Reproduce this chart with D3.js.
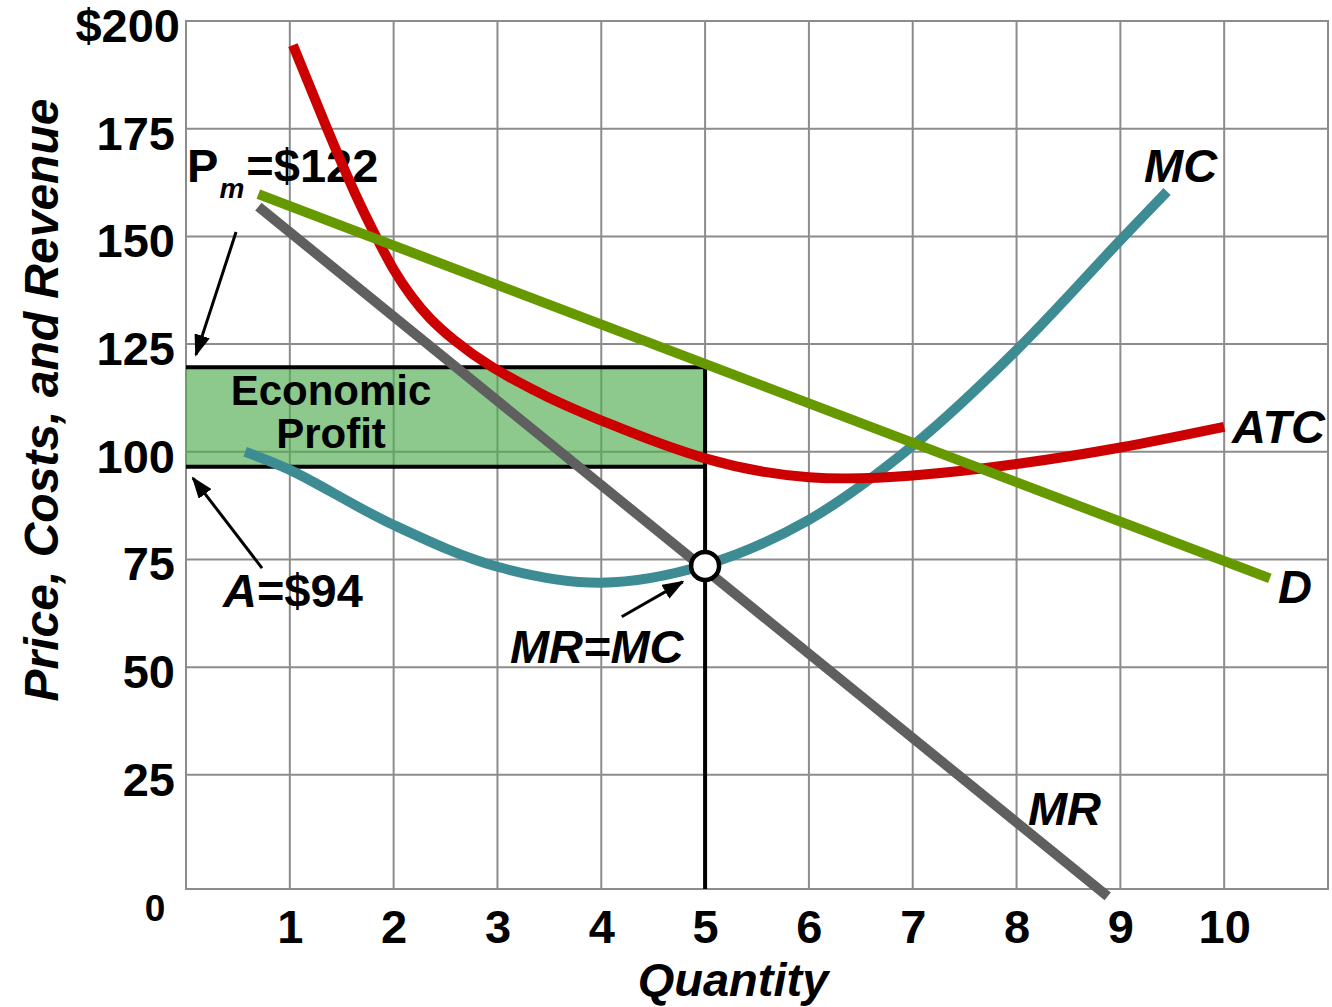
<!DOCTYPE html>
<html><head><meta charset="utf-8">
<script src="https://cdn.jsdelivr.net/npm/d3@7"></script>
<style>
html,body{margin:0;padding:0;background:#fff;}
svg{display:block;font-family:"Liberation Sans",Arial,Helvetica,sans-serif;}
</style></head><body>
<svg id="chart" width="1332" height="1007"></svg>
<script>
// ---- data ----
const quantityTicks = [1,2,3,4,5,6,7,8,9,10];
const priceTicks = [0,25,50,75,100,125,150,175,200];
const priceTickLabels = ["0","25","50","75","100","125","150","175","$200"];
const demandQ = [0.697, 10.44];
const demandP = [159.8, 70.6];
const mrQ = [0.697, 8.878];
const mrP = [156.9, -3.2];
const mcQ = [0.57, 1, 2, 3, 4, 5, 6, 7, 8, 9, 9.45];
const mcP = [100, 95.8, 83, 73.3, 69.6, 73.7, 84.2, 101.4, 123.6, 149.1, 160.4];
const atcQ = [1.03, 1.355, 1.65, 1.84, 2.0, 2.17, 2.34, 2.57, 2.9, 3.5, 4, 5, 6, 7, 8, 9, 10];
const atcP = [194.4, 175.1, 158.5, 149.5, 142, 136, 131, 126, 120, 112.3, 107.2, 97.6, 93.2, 94.2, 97, 100.8, 105.8];
const profitQ = 5;
const monopolyPrice = 119.6;
const averageCost = 96.5;
const equilibriumP = 73.5;

// ---- setup ----
const svg = d3.select("#chart");
const W = 1332, H = 1007;
const x = d3.scaleLinear().domain([0, 11]).range([186, 1328]);
const y = d3.scaleLinear().domain([-1.5, 200]).range([889, 21]);
const FONT = '"Liberation Sans",Arial,Helvetica,sans-serif';
const GRID = "#8c8c8c";

svg.append("rect").attr("width", W).attr("height", H).attr("fill", "#fff");

// grid
const g = svg.append("g");
g.selectAll("line.v").data(quantityTicks).join("line")
  .attr("x1", d => x(d)).attr("x2", d => x(d))
  .attr("y1", y(200)).attr("y2", y(-1.5))
  .attr("stroke", GRID).attr("stroke-width", 2);
g.selectAll("line.h").data(priceTicks.filter(d => d > 0 && d < 200)).join("line")
  .attr("x1", x(0)).attr("x2", x(11))
  .attr("y1", d => y(d)).attr("y2", d => y(d))
  .attr("stroke", GRID).attr("stroke-width", 2);
g.append("rect").attr("x", x(0)).attr("y", y(200))
  .attr("width", x(11) - x(0)).attr("height", y(-1.5) - y(200))
  .attr("fill", "none").attr("stroke", GRID).attr("stroke-width", 2);

// profit rectangle
svg.append("rect")
  .attr("x", x(0)).attr("y", y(monopolyPrice))
  .attr("width", x(profitQ) - x(0)).attr("height", y(averageCost) - y(monopolyPrice))
  .attr("fill", "rgb(80,170,80)").attr("fill-opacity", 0.65);
const blk = svg.append("g").attr("stroke", "#000").attr("stroke-width", 4).attr("fill", "none");
blk.append("line").attr("x1", x(0)).attr("x2", x(profitQ) + 2).attr("y1", y(monopolyPrice)).attr("y2", y(monopolyPrice));
blk.append("line").attr("x1", x(0)).attr("x2", x(profitQ)).attr("y1", y(averageCost)).attr("y2", y(averageCost));
blk.append("line").attr("x1", x(profitQ)).attr("x2", x(profitQ)).attr("y1", y(monopolyPrice) - 2).attr("y2", y(-1.5));

// text inside rect
const ep = svg.append("text").attr("font-family", FONT).attr("font-weight", "bold")
  .attr("font-size", 42).attr("text-anchor", "middle").attr("fill", "#000");
ep.append("tspan").attr("x", x(1.397)).attr("y", y(110.9)).text("Economic");
ep.append("tspan").attr("x", x(1.397)).attr("y", y(100.9)).text("Profit");

// P_m label
const pm = svg.append("text").attr("font-family", FONT).attr("font-weight", "bold")
  .attr("font-size", 47).attr("x", x(0.01)).attr("y", y(162.6)).attr("fill", "#000");
pm.append("tspan").text("P");
pm.append("tspan").attr("font-size", 28).attr("font-style", "italic").attr("dy", 16).attr("dx", 1).text("m");
pm.append("tspan").attr("dy", -16).attr("dx", 2).text("=$122");

// curves
const line = d3.line().x(d => x(d[0])).y(d => y(d[1]));
const zip = (a, b) => a.map((v, i) => [v, b[i]]);
const curves = [
  {pts: zip(mrQ, mrP), color: "#5f5f5f", curve: d3.curveLinear},
  {pts: zip(mcQ, mcP), color: "#3d8c94", curve: d3.curveCatmullRom.alpha(0.5)},
  {pts: zip(atcQ, atcP), color: "#cc0000", curve: d3.curveBasis},
  {pts: zip(demandQ, demandP), color: "#669900", curve: d3.curveLinear}
];
svg.append("g").selectAll("path").data(curves).join("path")
  .attr("d", d => line.curve(d.curve)(d.pts))
  .attr("fill", "none").attr("stroke", d => d.color).attr("stroke-width", 10)
  .attr("stroke-linecap", "butt").attr("stroke-linejoin", "round");

// equilibrium circle
svg.append("circle").attr("cx", x(profitQ)).attr("cy", y(equilibriumP)).attr("r", 14)
  .attr("fill", "#fff").attr("stroke", "#000").attr("stroke-width", 4.5);

// arrows
svg.append("defs").append("marker").attr("id", "ah")
  .attr("markerUnits", "userSpaceOnUse").attr("markerWidth", 22).attr("markerHeight", 16)
  .attr("viewBox", "0 0 22 16").attr("refX", 20).attr("refY", 8).attr("orient", "auto")
  .append("path").attr("d", "M0,0 L22,8 L0,16 Z").attr("fill", "#000");
const arrows = [
  [[0.482, 151.0], [0.096, 122.5]],
  [[0.732, 73.0], [0.067, 93.9]],
  [[4.197, 61.7], [4.784, 69.8]]
];
svg.append("g").selectAll("line").data(arrows).join("line")
  .attr("x1", d => x(d[0][0])).attr("y1", d => y(d[0][1]))
  .attr("x2", d => x(d[1][0])).attr("y2", d => y(d[1][1]))
  .attr("stroke", "#000").attr("stroke-width", 3).attr("marker-end", "url(#ah)");

// labels
function lab(t, q, p, italic, anchor) {
  return svg.append("text").attr("font-family", FONT).attr("font-weight", "bold")
    .attr("font-style", italic ? "italic" : "normal").attr("font-size", 47)
    .attr("x", x(q)).attr("y", y(p)).attr("text-anchor", anchor || "start").attr("fill", "#000").text(t);
}
lab("MC", 9.228, 162.6, true);
lab("ATC", 10.075, 102.0, true);
lab("D", 10.519, 64.9, true);
lab("MR", 8.11, 13.4, true);
lab("MR=MC", 3.12, 51.0, true);
const a94 = svg.append("text").attr("font-family", FONT).attr("font-weight", "bold")
  .attr("font-size", 47).attr("x", x(0.356)).attr("y", y(64.0)).attr("fill", "#000");
a94.append("tspan").attr("font-style", "italic").text("A");
a94.append("tspan").text("=$94");

// axes
const xAxis = svg.append("g").attr("transform", `translate(0,${y(-1.5)})`)
  .call(d3.axisBottom(x).tickValues(quantityTicks).tickSize(0).tickFormat(d3.format("d")));
xAxis.select(".domain").remove();
xAxis.selectAll("text").attr("y", 54).attr("dy", 0)
  .attr("font-family", FONT).attr("font-weight", "bold").attr("font-size", 47).attr("fill", "#000");

const yAxis = svg.append("g").attr("transform", `translate(${x(0)},0)`)
  .call(d3.axisLeft(y).tickValues(priceTicks).tickSize(0)
    .tickFormat((d, i) => priceTickLabels[i]));
yAxis.select(".domain").remove();
yAxis.selectAll("text").attr("x", -11).attr("dy", 20.5)
  .attr("font-family", FONT).attr("font-weight", "bold").attr("font-size", 47).attr("fill", "#000");
yAxis.selectAll(".tick").filter(d => d === 200).select("text").attr("x", -6);
yAxis.selectAll(".tick").filter(d => d === 0).select("text")
  .attr("text-anchor", "middle").attr("x", -31).attr("dy", 38).attr("font-size", 37);

// axis titles
svg.append("text").attr("font-family", FONT).attr("font-weight", "bold").attr("font-style", "italic")
  .attr("font-size", 47).attr("text-anchor", "middle")
  .attr("x", (x(0) + x(11)) / 2 - 24).attr("y", y(-1.5) + 107).text("Quantity");
svg.append("text").attr("font-family", FONT).attr("font-weight", "bold").attr("font-style", "italic")
  .attr("font-size", 48).attr("text-anchor", "middle")
  .attr("transform", `translate(58,400) rotate(-90)`).text("Price, Costs, and Revenue");
</script>
</body></html>
